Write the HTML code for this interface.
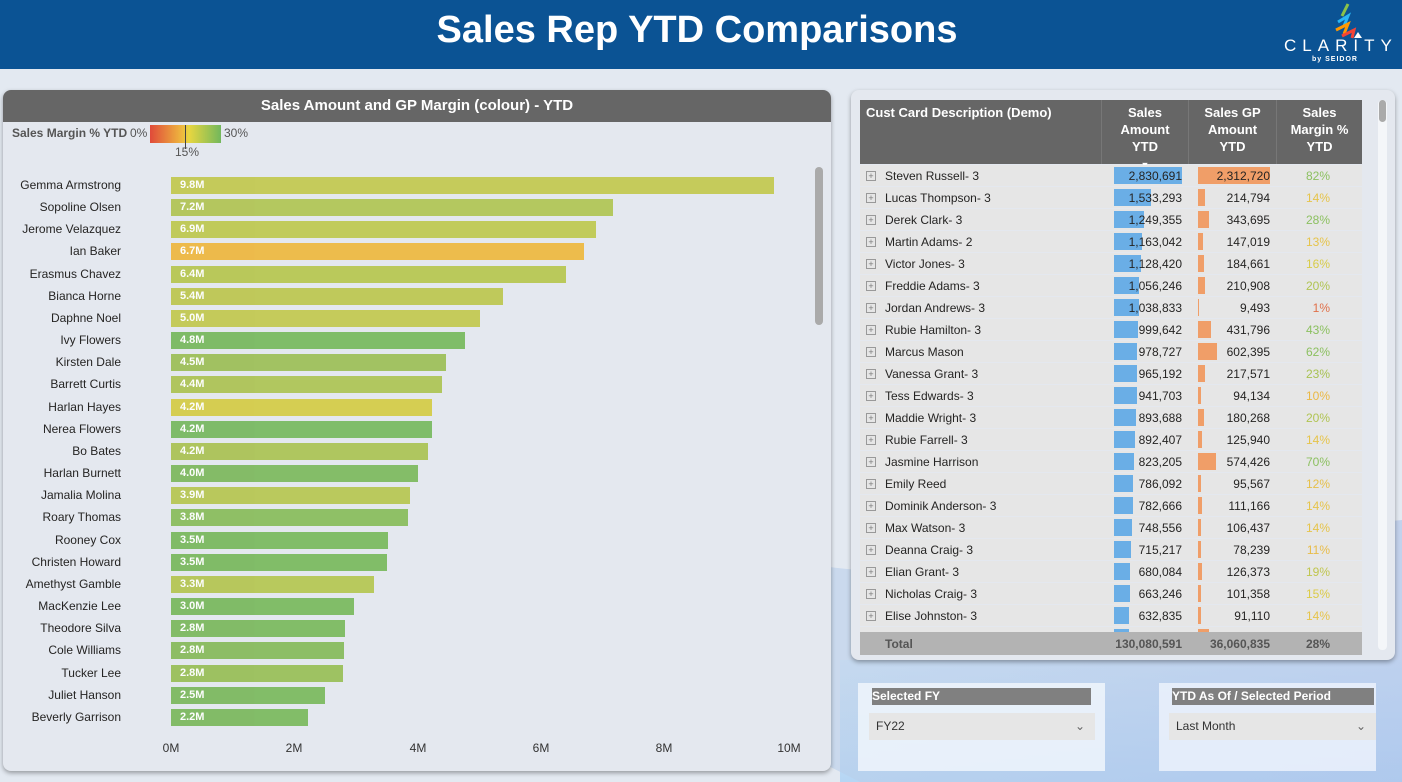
<!DOCTYPE html>
<html><head><meta charset="utf-8"><style>
*{box-sizing:border-box;margin:0;padding:0}
body{width:1402px;height:782px;overflow:hidden;position:relative;font-family:"Liberation Sans",sans-serif;background:#e3e9f1}
.abs{position:absolute}
#hdr{left:0;top:0;width:1402px;height:69px;background:#0b5394}
#hdr h1{position:absolute;left:0;width:1394px;top:9px;text-align:center;color:#fff;font-size:38px;font-weight:bold}
#swoosh{left:0;top:0;width:1402px;height:782px}
.panel{background:#e4e8ef;border-radius:8px;box-shadow:0 2px 5px rgba(0,0,0,.35)}
.nm{position:absolute;right:1281px;font-size:12px;color:#252423;white-space:nowrap}
.bar{position:absolute;left:171px;height:17px;color:#fff;font-size:11px;font-weight:bold;padding-left:9px;line-height:17px;opacity:.92}
.ax{position:absolute;top:741px;font-size:12px;color:#333;transform:translateX(-50%)}
.row{position:absolute;left:860px;width:502px;height:21px;background:#e6e6e6;font-size:12px;color:#252423}
.row span{position:absolute;top:4px}
.pl{left:6px;top:6px;width:10px;height:10px;border:1px solid #999;position:absolute;font-size:9px;line-height:8px;text-align:center;color:#777}
.sb{position:absolute;left:254px;top:2px;height:17px;background:#6aaee6}
.gb{position:absolute;left:338px;top:2px;height:17px;background:#f09e68}
.hc{position:absolute;top:100px;height:64px;background:#666;color:#fff;font-weight:bold;font-size:13px;text-align:center;line-height:17px;padding-top:4px}
</style></head><body>
<svg id="swoosh" class="abs" width="1402" height="782">
<defs>
<linearGradient id="g1" x1="0" y1="0" x2="1" y2="0"><stop offset="0" stop-color="#c4daec" stop-opacity=".9"/><stop offset="1" stop-color="#a9bfe8" stop-opacity=".8"/></linearGradient>
<linearGradient id="g2" x1="0" y1="0" x2="0" y2="1"><stop offset="0" stop-color="#d8e8f6"/><stop offset="1" stop-color="#b6d6f4"/></linearGradient>
</defs>
<rect x="840" y="660" width="562" height="122" fill="url(#g2)"/>
<path d="M430 400 C600 470 700 560 860 570 L1402 520 L1402 782 L860 782 C700 700 560 640 430 600 Z" fill="url(#g1)" opacity=".7"/>
</svg>
<div id="hdr" class="abs"><h1>Sales Rep YTD Comparisons</h1>
<svg class="abs" style="left:1318px;top:0px" width="48" height="42"><path d="M30 4 l-6 12" stroke="#8bc34a" stroke-width="3"/><path d="M20 22 l10 -6 l-4 10" stroke="#29b6f6" stroke-width="3" fill="none"/><path d="M18 30 l12 -6 l-4 10" stroke="#ff9800" stroke-width="3" fill="none"/><path d="M24 36 l12 -6 l-2 8" stroke="#f44336" stroke-width="3" fill="none"/><path d="M40 32 l4 6 h-8z" fill="#fff"/></svg>
<div class="abs" style="left:1284px;top:36px;color:#fff;font-size:17px;letter-spacing:6px">CLARITY</div>
<div class="abs" style="left:1312px;top:56px;color:#fff;font-size:7px;font-weight:bold;letter-spacing:1px">by SEIDOR</div>
</div>

<div class="abs panel" style="left:3px;top:90px;width:828px;height:681px">
<div style="height:32px;background:#666;border-radius:8px 8px 0 0;color:#fff;font-weight:bold;font-size:15px;text-align:center;line-height:32px">Sales Amount and GP Margin (colour) - YTD</div>
</div>
<div class="abs" style="left:12px;top:126px;font-size:12px;font-weight:bold;color:#555">Sales Margin % YTD</div>
<div class="abs" style="left:130px;top:126px;font-size:12px;color:#555">0%</div>
<div class="abs" style="left:150px;top:125px;width:71px;height:18px;background:linear-gradient(90deg,#e04a3a,#eeb83e 45%,#e8d640 55%,#72b85c)"></div>
<div class="abs" style="left:185px;top:125px;width:1px;height:24px;background:#444"></div>
<div class="abs" style="left:224px;top:126px;font-size:12px;color:#555">30%</div>
<div class="abs" style="left:175px;top:145px;font-size:12px;color:#555">15%</div>
<div class="abs" style="left:815px;top:167px;width:8px;height:158px;background:#aaa;border-radius:4px"></div>

<div class="nm" style="top:178px">Gemma Armstrong</div><div class="bar" style="top:177px;width:603px;background:#c2c84e">9.8M</div>
<div class="nm" style="top:200px">Sopoline Olsen</div><div class="bar" style="top:199px;width:442px;background:#b0c452">7.2M</div>
<div class="nm" style="top:222px">Jerome Velazquez</div><div class="bar" style="top:221px;width:425px;background:#bec84e">6.9M</div>
<div class="nm" style="top:244px">Ian Baker</div><div class="bar" style="top:243px;width:413px;background:#eeb73e">6.7M</div>
<div class="nm" style="top:267px">Erasmus Chavez</div><div class="bar" style="top:266px;width:395px;background:#b6c64e">6.4M</div>
<div class="nm" style="top:289px">Bianca Horne</div><div class="bar" style="top:288px;width:332px;background:#bcc64e">5.4M</div>
<div class="nm" style="top:311px">Daphne Noel</div><div class="bar" style="top:310px;width:309px;background:#c2c84e">5.0M</div>
<div class="nm" style="top:333px">Ivy Flowers</div><div class="bar" style="top:332px;width:294px;background:#76b85c">4.8M</div>
<div class="nm" style="top:355px">Kirsten Dale</div><div class="bar" style="top:354px;width:275px;background:#9cbe56">4.5M</div>
<div class="nm" style="top:377px">Barrett Curtis</div><div class="bar" style="top:376px;width:271px;background:#acc352">4.4M</div>
<div class="nm" style="top:400px">Harlan Hayes</div><div class="bar" style="top:399px;width:261px;background:#d4cb44">4.2M</div>
<div class="nm" style="top:422px">Nerea Flowers</div><div class="bar" style="top:421px;width:261px;background:#76b85e">4.2M</div>
<div class="nm" style="top:444px">Bo Bates</div><div class="bar" style="top:443px;width:257px;background:#aac252">4.2M</div>
<div class="nm" style="top:466px">Harlan Burnett</div><div class="bar" style="top:465px;width:247px;background:#7cb85c">4.0M</div>
<div class="nm" style="top:488px">Jamalia Molina</div><div class="bar" style="top:487px;width:239px;background:#b6c650">3.9M</div>
<div class="nm" style="top:510px">Roary Thomas</div><div class="bar" style="top:509px;width:237px;background:#88bc5a">3.8M</div>
<div class="nm" style="top:533px">Rooney Cox</div><div class="bar" style="top:532px;width:217px;background:#78b85c">3.5M</div>
<div class="nm" style="top:555px">Christen Howard</div><div class="bar" style="top:554px;width:216px;background:#78b85c">3.5M</div>
<div class="nm" style="top:577px">Amethyst Gamble</div><div class="bar" style="top:576px;width:203px;background:#b4c550">3.3M</div>
<div class="nm" style="top:599px">MacKenzie Lee</div><div class="bar" style="top:598px;width:183px;background:#78b85c">3.0M</div>
<div class="nm" style="top:621px">Theodore Silva</div><div class="bar" style="top:620px;width:174px;background:#7ab85c">2.8M</div>
<div class="nm" style="top:643px">Cole Williams</div><div class="bar" style="top:642px;width:173px;background:#86ba5a">2.8M</div>
<div class="nm" style="top:666px">Tucker Lee</div><div class="bar" style="top:665px;width:172px;background:#98be56">2.8M</div>
<div class="nm" style="top:688px">Juliet Hanson</div><div class="bar" style="top:687px;width:154px;background:#7ab85c">2.5M</div>
<div class="nm" style="top:710px">Beverly Garrison</div><div class="bar" style="top:709px;width:137px;background:#7ab85c">2.2M</div>
<div class="ax" style="left:171px">0M</div><div class="ax" style="left:294px">2M</div><div class="ax" style="left:418px">4M</div><div class="ax" style="left:541px">6M</div><div class="ax" style="left:664px">8M</div><div class="ax" style="left:789px">10M</div>

<div class="abs panel" style="left:851px;top:90px;width:544px;height:570px;background:#e4e8ef"></div>
<div class="abs" style="left:1378px;top:100px;width:9px;height:550px;background:#f4f6f9;border-radius:4px"></div>
<div class="abs" style="left:1379px;top:100px;width:7px;height:22px;background:#aaa;border-radius:4px"></div>
<div class="hc" style="left:860px;width:241px;text-align:left;padding-left:6px">Cust Card Description (Demo)</div>
<div class="hc" style="left:1101px;width:87px;border-left:1px solid #777">Sales<br>Amount<br>YTD<br><span style="font-size:9px">▼</span></div>
<div class="hc" style="left:1188px;width:88px;border-left:1px solid #777">Sales GP<br>Amount<br>YTD</div>
<div class="hc" style="left:1276px;width:86px;border-left:1px solid #777">Sales<br>Margin %<br>YTD</div>

<div class="row" style="top:165px"><div class="pl">+</div><span style="left:25px">Steven Russell- 3</span><div class="sb" style="width:68px"></div><span style="right:180px">2,830,691</span><div class="gb" style="width:72px"></div><span style="right:92px">2,312,720</span><span style="right:32px;color:#8cc060">82%</span></div>
<div class="row" style="top:187px"><div class="pl">+</div><span style="left:25px">Lucas Thompson- 3</span><div class="sb" style="width:37px"></div><span style="right:180px">1,533,293</span><div class="gb" style="width:7px"></div><span style="right:92px">214,794</span><span style="right:32px;color:#e6c44a">14%</span></div>
<div class="row" style="top:209px"><div class="pl">+</div><span style="left:25px">Derek Clark- 3</span><div class="sb" style="width:30px"></div><span style="right:180px">1,249,355</span><div class="gb" style="width:11px"></div><span style="right:92px">343,695</span><span style="right:32px;color:#8cc060">28%</span></div>
<div class="row" style="top:231px"><div class="pl">+</div><span style="left:25px">Martin Adams- 2</span><div class="sb" style="width:28px"></div><span style="right:180px">1,163,042</span><div class="gb" style="width:5px"></div><span style="right:92px">147,019</span><span style="right:32px;color:#e6c44a">13%</span></div>
<div class="row" style="top:253px"><div class="pl">+</div><span style="left:25px">Victor Jones- 3</span><div class="sb" style="width:27px"></div><span style="right:180px">1,128,420</span><div class="gb" style="width:6px"></div><span style="right:92px">184,661</span><span style="right:32px;color:#d8cc48">16%</span></div>
<div class="row" style="top:275px"><div class="pl">+</div><span style="left:25px">Freddie Adams- 3</span><div class="sb" style="width:25px"></div><span style="right:180px">1,056,246</span><div class="gb" style="width:7px"></div><span style="right:92px">210,908</span><span style="right:32px;color:#b0c452">20%</span></div>
<div class="row" style="top:297px"><div class="pl">+</div><span style="left:25px">Jordan Andrews- 3</span><div class="sb" style="width:25px"></div><span style="right:180px">1,038,833</span><div class="gb" style="width:1px"></div><span style="right:92px">9,493</span><span style="right:32px;color:#e0704a">1%</span></div>
<div class="row" style="top:319px"><div class="pl">+</div><span style="left:25px">Rubie Hamilton- 3</span><div class="sb" style="width:24px"></div><span style="right:180px">999,642</span><div class="gb" style="width:13px"></div><span style="right:92px">431,796</span><span style="right:32px;color:#8cc060">43%</span></div>
<div class="row" style="top:341px"><div class="pl">+</div><span style="left:25px">Marcus Mason</span><div class="sb" style="width:23px"></div><span style="right:180px">978,727</span><div class="gb" style="width:19px"></div><span style="right:92px">602,395</span><span style="right:32px;color:#8cc060">62%</span></div>
<div class="row" style="top:363px"><div class="pl">+</div><span style="left:25px">Vanessa Grant- 3</span><div class="sb" style="width:23px"></div><span style="right:180px">965,192</span><div class="gb" style="width:7px"></div><span style="right:92px">217,571</span><span style="right:32px;color:#a8c252">23%</span></div>
<div class="row" style="top:385px"><div class="pl">+</div><span style="left:25px">Tess Edwards- 3</span><div class="sb" style="width:23px"></div><span style="right:180px">941,703</span><div class="gb" style="width:3px"></div><span style="right:92px">94,134</span><span style="right:32px;color:#eab844">10%</span></div>
<div class="row" style="top:407px"><div class="pl">+</div><span style="left:25px">Maddie Wright- 3</span><div class="sb" style="width:22px"></div><span style="right:180px">893,688</span><div class="gb" style="width:6px"></div><span style="right:92px">180,268</span><span style="right:32px;color:#b0c452">20%</span></div>
<div class="row" style="top:429px"><div class="pl">+</div><span style="left:25px">Rubie Farrell- 3</span><div class="sb" style="width:21px"></div><span style="right:180px">892,407</span><div class="gb" style="width:4px"></div><span style="right:92px">125,940</span><span style="right:32px;color:#e6c44a">14%</span></div>
<div class="row" style="top:451px"><div class="pl">+</div><span style="left:25px">Jasmine Harrison</span><div class="sb" style="width:20px"></div><span style="right:180px">823,205</span><div class="gb" style="width:18px"></div><span style="right:92px">574,426</span><span style="right:32px;color:#8cc060">70%</span></div>
<div class="row" style="top:473px"><div class="pl">+</div><span style="left:25px">Emily Reed</span><div class="sb" style="width:19px"></div><span style="right:180px">786,092</span><div class="gb" style="width:3px"></div><span style="right:92px">95,567</span><span style="right:32px;color:#e6c04a">12%</span></div>
<div class="row" style="top:495px"><div class="pl">+</div><span style="left:25px">Dominik Anderson- 3</span><div class="sb" style="width:19px"></div><span style="right:180px">782,666</span><div class="gb" style="width:4px"></div><span style="right:92px">111,166</span><span style="right:32px;color:#e6c44a">14%</span></div>
<div class="row" style="top:517px"><div class="pl">+</div><span style="left:25px">Max Watson- 3</span><div class="sb" style="width:18px"></div><span style="right:180px">748,556</span><div class="gb" style="width:3px"></div><span style="right:92px">106,437</span><span style="right:32px;color:#e6c44a">14%</span></div>
<div class="row" style="top:539px"><div class="pl">+</div><span style="left:25px">Deanna Craig- 3</span><div class="sb" style="width:17px"></div><span style="right:180px">715,217</span><div class="gb" style="width:3px"></div><span style="right:92px">78,239</span><span style="right:32px;color:#e8bc48">11%</span></div>
<div class="row" style="top:561px"><div class="pl">+</div><span style="left:25px">Elian Grant- 3</span><div class="sb" style="width:16px"></div><span style="right:180px">680,084</span><div class="gb" style="width:4px"></div><span style="right:92px">126,373</span><span style="right:32px;color:#c0c64e">19%</span></div>
<div class="row" style="top:583px"><div class="pl">+</div><span style="left:25px">Nicholas Craig- 3</span><div class="sb" style="width:16px"></div><span style="right:180px">663,246</span><div class="gb" style="width:3px"></div><span style="right:92px">101,358</span><span style="right:32px;color:#dccb46">15%</span></div>
<div class="row" style="top:605px"><div class="pl">+</div><span style="left:25px">Elise Johnston- 3</span><div class="sb" style="width:15px"></div><span style="right:180px">632,835</span><div class="gb" style="width:3px"></div><span style="right:92px">91,110</span><span style="right:32px;color:#e6c44a">14%</span></div>
<div class="row" style="top:627px;height:5px"><div class="sb" style="width:15px;height:5px"></div><div class="gb" style="width:11px;height:5px"></div></div>
<div class="abs" style="left:860px;top:632px;width:502px;height:23px;background:#b3b3b3;font-size:12px;font-weight:bold;color:#555">
<span class="abs" style="left:25px;top:5px">Total</span><span class="abs" style="right:180px;top:5px">130,080,591</span><span class="abs" style="right:92px;top:5px">36,060,835</span><span class="abs" style="right:32px;top:5px">28%</span></div>

<div class="abs" style="left:858px;top:683px;width:247px;height:88px;background:rgba(240,246,252,.85)"></div>
<div class="abs" style="left:872px;top:688px;width:219px;height:17px;background:#808080;color:#fff;font-size:12px;font-weight:bold;line-height:17px">Selected FY</div>
<div class="abs" style="left:869px;top:713px;width:226px;height:27px;background:#e6e6e6;font-size:12px;color:#333;line-height:27px;padding-left:7px">FY22<span class="abs" style="right:10px;top:0;color:#666">&#8964;</span></div>
<div class="abs" style="left:1159px;top:683px;width:217px;height:88px;background:rgba(236,242,252,.85)"></div>
<div class="abs" style="left:1172px;top:688px;width:202px;height:17px;background:#808080;color:#fff;font-size:12px;font-weight:bold;line-height:17px">YTD As Of / Selected Period</div>
<div class="abs" style="left:1169px;top:713px;width:207px;height:27px;background:#e6e6e6;font-size:12px;color:#333;line-height:27px;padding-left:7px">Last Month<span class="abs" style="right:10px;top:0;color:#666">&#8964;</span></div>
</body></html>
